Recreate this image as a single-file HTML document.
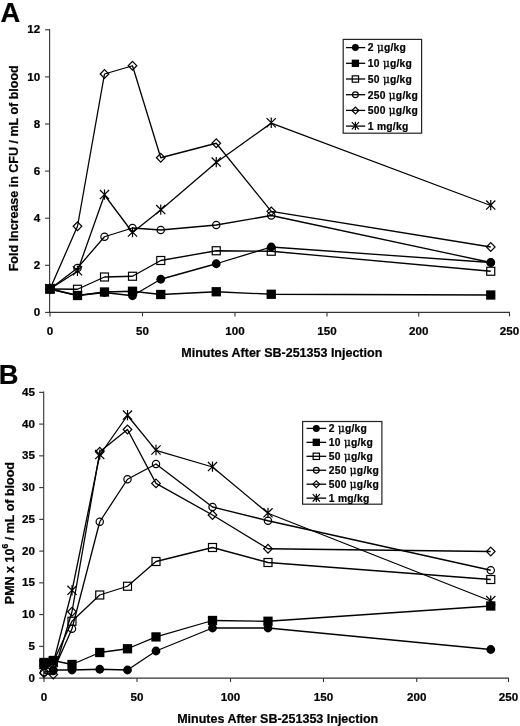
<!DOCTYPE html>
<html><head><meta charset="utf-8"><title>Figure</title>
<style>
html,body{margin:0;padding:0;background:#fff}
svg{display:block}
text{font-family:"Liberation Sans", Arial, sans-serif;font-weight:bold;fill:#000;stroke:#000;stroke-width:0.22px}
.t{font-size:11.6px}
.ax{font-size:12.5px}
.lg{font-size:10.3px;letter-spacing:0.25px}
.mu{stroke-width:0.35px;font-family:"DejaVu Serif","Liberation Serif",serif;font-weight:normal;font-size:10.4px}
.pl{font-size:27.3px}
</style></head><body>
<svg width="520" height="726" viewBox="0 0 520 726">
<rect width="520" height="726" fill="#fff"/>
<path d="M49.6 29V312.9M49.1 312.4H510" stroke="#333" stroke-width="1.1" fill="none"/>
<line x1="45.1" x2="49.6" y1="312.40" y2="312.40" stroke="#333" stroke-width="1.1"/>
<text x="40.2" y="316.00" text-anchor="end" class="t">0</text>
<line x1="45.1" x2="49.6" y1="265.30" y2="265.30" stroke="#333" stroke-width="1.1"/>
<text x="40.2" y="268.90" text-anchor="end" class="t">2</text>
<line x1="45.1" x2="49.6" y1="218.20" y2="218.20" stroke="#333" stroke-width="1.1"/>
<text x="40.2" y="221.80" text-anchor="end" class="t">4</text>
<line x1="45.1" x2="49.6" y1="171.10" y2="171.10" stroke="#333" stroke-width="1.1"/>
<text x="40.2" y="174.70" text-anchor="end" class="t">6</text>
<line x1="45.1" x2="49.6" y1="124.00" y2="124.00" stroke="#333" stroke-width="1.1"/>
<text x="40.2" y="127.60" text-anchor="end" class="t">8</text>
<line x1="45.1" x2="49.6" y1="76.90" y2="76.90" stroke="#333" stroke-width="1.1"/>
<text x="40.2" y="80.50" text-anchor="end" class="t">10</text>
<line x1="45.1" x2="49.6" y1="29.80" y2="29.80" stroke="#333" stroke-width="1.1"/>
<text x="40.2" y="33.40" text-anchor="end" class="t">12</text>
<line x1="50" x2="50" y1="312.4" y2="316.4" stroke="#333" stroke-width="1.1"/>
<text x="50" y="334.7" text-anchor="middle" class="t">0</text>
<line x1="142.5" x2="142.5" y1="312.4" y2="316.4" stroke="#333" stroke-width="1.1"/>
<text x="142.5" y="334.7" text-anchor="middle" class="t">50</text>
<line x1="235" x2="235" y1="312.4" y2="316.4" stroke="#333" stroke-width="1.1"/>
<text x="235" y="334.7" text-anchor="middle" class="t">100</text>
<line x1="327" x2="327" y1="312.4" y2="316.4" stroke="#333" stroke-width="1.1"/>
<text x="327" y="334.7" text-anchor="middle" class="t">150</text>
<line x1="418.75" x2="418.75" y1="312.4" y2="316.4" stroke="#333" stroke-width="1.1"/>
<text x="418.75" y="334.7" text-anchor="middle" class="t">200</text>
<line x1="509.5" x2="509.5" y1="312.4" y2="316.4" stroke="#333" stroke-width="1.1"/>
<text x="509.5" y="334.7" text-anchor="middle" class="t">250</text>
<text x="281.8" y="356.5" text-anchor="middle" class="ax">Minutes After SB-251353 Injection</text>
<text transform="translate(18.2 168.3) rotate(-90)" text-anchor="middle" class="ax">Fold Increase in CFU / mL of blood</text>
<polyline points="50,289 77.5,271.25 104.5,195 132.5,232.5 160.75,210 216.25,162.5 271.25,123.1 490.75,205.5" fill="none" stroke="#000" stroke-width="1.3" stroke-linejoin="round"/>
<path d="M50 283.40V293.80M45.40 284.00L54.60 293.20M45.40 293.20L54.60 284.00" fill="none" stroke="#000" stroke-width="1.2"/>
<path d="M77.5 265.65V276.05M72.90 266.25L82.10 275.45M72.90 275.45L82.10 266.25" fill="none" stroke="#000" stroke-width="1.2"/>
<path d="M104.5 189.40V199.80M99.90 190.00L109.10 199.20M99.90 199.20L109.10 190.00" fill="none" stroke="#000" stroke-width="1.2"/>
<path d="M132.5 226.90V237.30M127.90 227.50L137.10 236.70M127.90 236.70L137.10 227.50" fill="none" stroke="#000" stroke-width="1.2"/>
<path d="M160.75 204.40V214.80M156.15 205.00L165.35 214.20M156.15 214.20L165.35 205.00" fill="none" stroke="#000" stroke-width="1.2"/>
<path d="M216.25 156.90V167.30M211.65 157.50L220.85 166.70M211.65 166.70L220.85 157.50" fill="none" stroke="#000" stroke-width="1.2"/>
<path d="M271.25 117.50V127.90M266.65 118.10L275.85 127.30M266.65 127.30L275.85 118.10" fill="none" stroke="#000" stroke-width="1.2"/>
<path d="M490.75 199.90V210.30M486.15 200.50L495.35 209.70M486.15 209.70L495.35 200.50" fill="none" stroke="#000" stroke-width="1.2"/>
<polyline points="50,289 77.5,226.25 104.5,74 132.5,65.75 160.75,157.75 216.25,143.25 271.25,211.3 490.75,247" fill="none" stroke="#000" stroke-width="1.3" stroke-linejoin="round"/>
<path d="M45.70 289L50 284.70L54.30 289L50 293.30Z" fill="none" stroke="#000" stroke-width="1.2"/>
<path d="M73.20 226.25L77.5 221.95L81.80 226.25L77.5 230.55Z" fill="none" stroke="#000" stroke-width="1.2"/>
<path d="M100.20 74L104.5 69.70L108.80 74L104.5 78.30Z" fill="none" stroke="#000" stroke-width="1.2"/>
<path d="M128.20 65.75L132.5 61.45L136.80 65.75L132.5 70.05Z" fill="none" stroke="#000" stroke-width="1.2"/>
<path d="M156.45 157.75L160.75 153.45L165.05 157.75L160.75 162.05Z" fill="none" stroke="#000" stroke-width="1.2"/>
<path d="M211.95 143.25L216.25 138.95L220.55 143.25L216.25 147.55Z" fill="none" stroke="#000" stroke-width="1.2"/>
<path d="M266.95 211.3L271.25 207.00L275.55 211.3L271.25 215.60Z" fill="none" stroke="#000" stroke-width="1.2"/>
<path d="M486.45 247L490.75 242.70L495.05 247L490.75 251.30Z" fill="none" stroke="#000" stroke-width="1.2"/>
<polyline points="50,289 77.5,268 104.5,236.75 132.5,228 160.75,230 216.25,225 271.25,215.5 490.75,262.5" fill="none" stroke="#000" stroke-width="1.3" stroke-linejoin="round"/>
<circle cx="50" cy="289" r="3.65" fill="none" stroke="#000" stroke-width="1.2"/>
<circle cx="77.5" cy="268" r="3.65" fill="none" stroke="#000" stroke-width="1.2"/>
<circle cx="104.5" cy="236.75" r="3.65" fill="none" stroke="#000" stroke-width="1.2"/>
<circle cx="132.5" cy="228" r="3.65" fill="none" stroke="#000" stroke-width="1.2"/>
<circle cx="160.75" cy="230" r="3.65" fill="none" stroke="#000" stroke-width="1.2"/>
<circle cx="216.25" cy="225" r="3.65" fill="none" stroke="#000" stroke-width="1.2"/>
<circle cx="271.25" cy="215.5" r="3.65" fill="none" stroke="#000" stroke-width="1.2"/>
<circle cx="490.75" cy="262.5" r="3.65" fill="none" stroke="#000" stroke-width="1.2"/>
<polyline points="50,289 77.5,289.25 104.5,277 132.5,276.25 160.75,260.5 216.25,250.75 271.25,251.25 490.75,271.25" fill="none" stroke="#000" stroke-width="1.3" stroke-linejoin="round"/>
<rect x="46.00" y="285.00" width="8.00" height="8.00" fill="none" stroke="#000" stroke-width="1.2"/>
<rect x="73.50" y="285.25" width="8.00" height="8.00" fill="none" stroke="#000" stroke-width="1.2"/>
<rect x="100.50" y="273.00" width="8.00" height="8.00" fill="none" stroke="#000" stroke-width="1.2"/>
<rect x="128.50" y="272.25" width="8.00" height="8.00" fill="none" stroke="#000" stroke-width="1.2"/>
<rect x="156.75" y="256.50" width="8.00" height="8.00" fill="none" stroke="#000" stroke-width="1.2"/>
<rect x="212.25" y="246.75" width="8.00" height="8.00" fill="none" stroke="#000" stroke-width="1.2"/>
<rect x="267.25" y="247.25" width="8.00" height="8.00" fill="none" stroke="#000" stroke-width="1.2"/>
<rect x="486.75" y="267.25" width="8.00" height="8.00" fill="none" stroke="#000" stroke-width="1.2"/>
<polyline points="50,289 77.5,295.5 104.5,292 132.5,291.25 160.75,294.5 216.25,291.75 271.25,294.25 490.75,295" fill="none" stroke="#000" stroke-width="1.3" stroke-linejoin="round"/>
<rect x="45.35" y="284.35" width="9.30" height="9.30" fill="#000"/>
<rect x="72.85" y="290.85" width="9.30" height="9.30" fill="#000"/>
<rect x="99.85" y="287.35" width="9.30" height="9.30" fill="#000"/>
<rect x="127.85" y="286.60" width="9.30" height="9.30" fill="#000"/>
<rect x="156.10" y="289.85" width="9.30" height="9.30" fill="#000"/>
<rect x="211.60" y="287.10" width="9.30" height="9.30" fill="#000"/>
<rect x="266.60" y="289.60" width="9.30" height="9.30" fill="#000"/>
<rect x="486.10" y="290.35" width="9.30" height="9.30" fill="#000"/>
<polyline points="50,289 77.5,295.5 104.5,292.5 132.5,295.75 160.75,279.25 216.25,263.75 271.25,247 490.75,262.5" fill="none" stroke="#000" stroke-width="1.3" stroke-linejoin="round"/>
<circle cx="50" cy="289" r="4.40" fill="#000"/>
<circle cx="77.5" cy="295.5" r="4.40" fill="#000"/>
<circle cx="104.5" cy="292.5" r="4.40" fill="#000"/>
<circle cx="132.5" cy="295.75" r="4.40" fill="#000"/>
<circle cx="160.75" cy="279.25" r="4.40" fill="#000"/>
<circle cx="216.25" cy="263.75" r="4.40" fill="#000"/>
<circle cx="271.25" cy="247" r="4.40" fill="#000"/>
<circle cx="490.75" cy="262.5" r="4.40" fill="#000"/>
<rect x="343.2" y="39.4" width="78.4" height="93.8" fill="#fff" stroke="#222" stroke-width="1.2"/>
<line x1="346" x2="365.2" y1="47.60" y2="47.60" stroke="#000" stroke-width="1.3"/>
<circle cx="355.4" cy="47.6" r="3.48" fill="#000"/>
<text x="367.8" y="51.40" class="lg">2 <tspan class="mu">μ</tspan>g/kg</text>
<line x1="346" x2="365.2" y1="63.30" y2="63.30" stroke="#000" stroke-width="1.3"/>
<rect x="351.73" y="59.63" width="7.35" height="7.35" fill="#000"/>
<text x="367.8" y="67.10" class="lg">10 <tspan class="mu">μ</tspan>g/kg</text>
<line x1="346" x2="365.2" y1="79.00" y2="79.00" stroke="#000" stroke-width="1.3"/>
<rect x="352.24" y="75.84" width="6.32" height="6.32" fill="none" stroke="#000" stroke-width="1.2"/>
<text x="367.8" y="82.80" class="lg">50 <tspan class="mu">μ</tspan>g/kg</text>
<line x1="346" x2="365.2" y1="94.70" y2="94.70" stroke="#000" stroke-width="1.3"/>
<circle cx="355.4" cy="94.69999999999999" r="2.88" fill="none" stroke="#000" stroke-width="1.2"/>
<text x="367.8" y="98.50" class="lg">250 <tspan class="mu">μ</tspan>g/kg</text>
<line x1="346" x2="365.2" y1="110.40" y2="110.40" stroke="#000" stroke-width="1.3"/>
<path d="M352.00 110.4L355.4 107.00L358.80 110.4L355.4 113.80Z" fill="none" stroke="#000" stroke-width="1.2"/>
<text x="367.8" y="114.20" class="lg">500 <tspan class="mu">μ</tspan>g/kg</text>
<line x1="346" x2="365.2" y1="126.10" y2="126.10" stroke="#000" stroke-width="1.3"/>
<path d="M355.4 121.68V129.89M351.77 122.15L359.03 129.42M351.77 129.42L359.03 122.15" fill="none" stroke="#000" stroke-width="1.2"/>
<text x="367.8" y="129.90" class="lg">1 mg/kg</text>
<text x="0.5" y="21.7" class="pl">A</text>
<path d="M43.7 391.5V678.6M43.2 678.1H509" stroke="#333" stroke-width="1.1" fill="none"/>
<line x1="39.2" x2="43.7" y1="678.10" y2="678.10" stroke="#333" stroke-width="1.1"/>
<text x="35" y="681.70" text-anchor="end" class="t">0</text>
<line x1="39.2" x2="43.7" y1="646.35" y2="646.35" stroke="#333" stroke-width="1.1"/>
<text x="35" y="649.95" text-anchor="end" class="t">5</text>
<line x1="39.2" x2="43.7" y1="614.60" y2="614.60" stroke="#333" stroke-width="1.1"/>
<text x="35" y="618.20" text-anchor="end" class="t">10</text>
<line x1="39.2" x2="43.7" y1="582.85" y2="582.85" stroke="#333" stroke-width="1.1"/>
<text x="35" y="586.45" text-anchor="end" class="t">15</text>
<line x1="39.2" x2="43.7" y1="551.10" y2="551.10" stroke="#333" stroke-width="1.1"/>
<text x="35" y="554.70" text-anchor="end" class="t">20</text>
<line x1="39.2" x2="43.7" y1="519.35" y2="519.35" stroke="#333" stroke-width="1.1"/>
<text x="35" y="522.95" text-anchor="end" class="t">25</text>
<line x1="39.2" x2="43.7" y1="487.60" y2="487.60" stroke="#333" stroke-width="1.1"/>
<text x="35" y="491.20" text-anchor="end" class="t">30</text>
<line x1="39.2" x2="43.7" y1="455.85" y2="455.85" stroke="#333" stroke-width="1.1"/>
<text x="35" y="459.45" text-anchor="end" class="t">35</text>
<line x1="39.2" x2="43.7" y1="424.10" y2="424.10" stroke="#333" stroke-width="1.1"/>
<text x="35" y="427.70" text-anchor="end" class="t">40</text>
<line x1="39.2" x2="43.7" y1="392.35" y2="392.35" stroke="#333" stroke-width="1.1"/>
<text x="35" y="395.95" text-anchor="end" class="t">45</text>
<line x1="44" x2="44" y1="678.1" y2="682.1" stroke="#333" stroke-width="1.1"/>
<text x="44" y="701" text-anchor="middle" class="t">0</text>
<line x1="137" x2="137" y1="678.1" y2="682.1" stroke="#333" stroke-width="1.1"/>
<text x="137" y="701" text-anchor="middle" class="t">50</text>
<line x1="230.5" x2="230.5" y1="678.1" y2="682.1" stroke="#333" stroke-width="1.1"/>
<text x="230.5" y="701" text-anchor="middle" class="t">100</text>
<line x1="323.5" x2="323.5" y1="678.1" y2="682.1" stroke="#333" stroke-width="1.1"/>
<text x="323.5" y="701" text-anchor="middle" class="t">150</text>
<line x1="416.75" x2="416.75" y1="678.1" y2="682.1" stroke="#333" stroke-width="1.1"/>
<text x="416.75" y="701" text-anchor="middle" class="t">200</text>
<line x1="508.5" x2="508.5" y1="678.1" y2="682.1" stroke="#333" stroke-width="1.1"/>
<text x="508.5" y="701" text-anchor="middle" class="t">250</text>
<text x="277.7" y="722.5" text-anchor="middle" class="ax">Minutes After SB-251353 Injection</text>
<text transform="translate(13.5 533.1) rotate(-90)" text-anchor="middle" class="ax">PMN x 10<tspan dy="-5.4" style="font-size:8.6px">6</tspan><tspan dy="5.4"> / mL of blood</tspan></text>
<polyline points="44,665 53.25,663 72,590.75 99.75,455 127.5,415.5 156,450.4 212.5,467 268,513.25 490.75,601" fill="none" stroke="#000" stroke-width="1.3" stroke-linejoin="round"/>
<path d="M44 659.40V669.80M39.40 660.00L48.60 669.20M39.40 669.20L48.60 660.00" fill="none" stroke="#000" stroke-width="1.2"/>
<path d="M53.25 657.40V667.80M48.65 658.00L57.85 667.20M48.65 667.20L57.85 658.00" fill="none" stroke="#000" stroke-width="1.2"/>
<path d="M72 585.15V595.55M67.40 585.75L76.60 594.95M67.40 594.95L76.60 585.75" fill="none" stroke="#000" stroke-width="1.2"/>
<path d="M99.75 449.40V459.80M95.15 450.00L104.35 459.20M95.15 459.20L104.35 450.00" fill="none" stroke="#000" stroke-width="1.2"/>
<path d="M127.5 409.90V420.30M122.90 410.50L132.10 419.70M122.90 419.70L132.10 410.50" fill="none" stroke="#000" stroke-width="1.2"/>
<path d="M156 444.80V455.20M151.40 445.40L160.60 454.60M151.40 454.60L160.60 445.40" fill="none" stroke="#000" stroke-width="1.2"/>
<path d="M212.5 461.40V471.80M207.90 462.00L217.10 471.20M207.90 471.20L217.10 462.00" fill="none" stroke="#000" stroke-width="1.2"/>
<path d="M268 507.65V518.05M263.40 508.25L272.60 517.45M263.40 517.45L272.60 508.25" fill="none" stroke="#000" stroke-width="1.2"/>
<path d="M490.75 595.40V605.80M486.15 596.00L495.35 605.20M486.15 605.20L495.35 596.00" fill="none" stroke="#000" stroke-width="1.2"/>
<polyline points="44,673 53.25,674.5 72,611.75 99.75,451.75 127.5,429.5 156,483.4 212.5,515 268,548.75 490.75,551.5" fill="none" stroke="#000" stroke-width="1.3" stroke-linejoin="round"/>
<path d="M39.70 673L44 668.70L48.30 673L44 677.30Z" fill="none" stroke="#000" stroke-width="1.2"/>
<path d="M48.95 674.5L53.25 670.20L57.55 674.5L53.25 678.80Z" fill="none" stroke="#000" stroke-width="1.2"/>
<path d="M67.70 611.75L72 607.45L76.30 611.75L72 616.05Z" fill="none" stroke="#000" stroke-width="1.2"/>
<path d="M95.45 451.75L99.75 447.45L104.05 451.75L99.75 456.05Z" fill="none" stroke="#000" stroke-width="1.2"/>
<path d="M123.20 429.5L127.5 425.20L131.80 429.5L127.5 433.80Z" fill="none" stroke="#000" stroke-width="1.2"/>
<path d="M151.70 483.4L156 479.10L160.30 483.4L156 487.70Z" fill="none" stroke="#000" stroke-width="1.2"/>
<path d="M208.20 515L212.5 510.70L216.80 515L212.5 519.30Z" fill="none" stroke="#000" stroke-width="1.2"/>
<path d="M263.70 548.75L268 544.45L272.30 548.75L268 553.05Z" fill="none" stroke="#000" stroke-width="1.2"/>
<path d="M486.45 551.5L490.75 547.20L495.05 551.5L490.75 555.80Z" fill="none" stroke="#000" stroke-width="1.2"/>
<polyline points="44,672 53.25,671 72,628.75 99.75,521.75 127.5,479.25 156,464 212.5,507 268,520.75 490.75,570.25" fill="none" stroke="#000" stroke-width="1.3" stroke-linejoin="round"/>
<circle cx="44" cy="672" r="3.65" fill="none" stroke="#000" stroke-width="1.2"/>
<circle cx="53.25" cy="671" r="3.65" fill="none" stroke="#000" stroke-width="1.2"/>
<circle cx="72" cy="628.75" r="3.65" fill="none" stroke="#000" stroke-width="1.2"/>
<circle cx="99.75" cy="521.75" r="3.65" fill="none" stroke="#000" stroke-width="1.2"/>
<circle cx="127.5" cy="479.25" r="3.65" fill="none" stroke="#000" stroke-width="1.2"/>
<circle cx="156" cy="464" r="3.65" fill="none" stroke="#000" stroke-width="1.2"/>
<circle cx="212.5" cy="507" r="3.65" fill="none" stroke="#000" stroke-width="1.2"/>
<circle cx="268" cy="520.75" r="3.65" fill="none" stroke="#000" stroke-width="1.2"/>
<circle cx="490.75" cy="570.25" r="3.65" fill="none" stroke="#000" stroke-width="1.2"/>
<polyline points="44,664 53.25,662 72,621.25 99.75,595 127.5,586.25 156,561.5 212.5,547.5 268,562.5 490.75,579.5" fill="none" stroke="#000" stroke-width="1.3" stroke-linejoin="round"/>
<rect x="40.00" y="660.00" width="8.00" height="8.00" fill="none" stroke="#000" stroke-width="1.2"/>
<rect x="49.25" y="658.00" width="8.00" height="8.00" fill="none" stroke="#000" stroke-width="1.2"/>
<rect x="68.00" y="617.25" width="8.00" height="8.00" fill="none" stroke="#000" stroke-width="1.2"/>
<rect x="95.75" y="591.00" width="8.00" height="8.00" fill="none" stroke="#000" stroke-width="1.2"/>
<rect x="123.50" y="582.25" width="8.00" height="8.00" fill="none" stroke="#000" stroke-width="1.2"/>
<rect x="152.00" y="557.50" width="8.00" height="8.00" fill="none" stroke="#000" stroke-width="1.2"/>
<rect x="208.50" y="543.50" width="8.00" height="8.00" fill="none" stroke="#000" stroke-width="1.2"/>
<rect x="264.00" y="558.50" width="8.00" height="8.00" fill="none" stroke="#000" stroke-width="1.2"/>
<rect x="486.75" y="575.50" width="8.00" height="8.00" fill="none" stroke="#000" stroke-width="1.2"/>
<polyline points="44,662.5 53.25,660.5 72,664.5 99.75,652.5 127.5,648.75 156,636.9 212.5,620.5 268,621.25 490.75,606" fill="none" stroke="#000" stroke-width="1.3" stroke-linejoin="round"/>
<rect x="39.35" y="657.85" width="9.30" height="9.30" fill="#000"/>
<rect x="48.60" y="655.85" width="9.30" height="9.30" fill="#000"/>
<rect x="67.35" y="659.85" width="9.30" height="9.30" fill="#000"/>
<rect x="95.10" y="647.85" width="9.30" height="9.30" fill="#000"/>
<rect x="122.85" y="644.10" width="9.30" height="9.30" fill="#000"/>
<rect x="151.35" y="632.25" width="9.30" height="9.30" fill="#000"/>
<rect x="207.85" y="615.85" width="9.30" height="9.30" fill="#000"/>
<rect x="263.35" y="616.60" width="9.30" height="9.30" fill="#000"/>
<rect x="486.10" y="601.35" width="9.30" height="9.30" fill="#000"/>
<polyline points="44,666 53.25,670 72,670 99.75,669.25 127.5,670 156,651 212.5,628 268,628 490.75,649.5" fill="none" stroke="#000" stroke-width="1.3" stroke-linejoin="round"/>
<circle cx="44" cy="666" r="4.40" fill="#000"/>
<circle cx="53.25" cy="670" r="4.40" fill="#000"/>
<circle cx="72" cy="670" r="4.40" fill="#000"/>
<circle cx="99.75" cy="669.25" r="4.40" fill="#000"/>
<circle cx="127.5" cy="670" r="4.40" fill="#000"/>
<circle cx="156" cy="651" r="4.40" fill="#000"/>
<circle cx="212.5" cy="628" r="4.40" fill="#000"/>
<circle cx="268" cy="628" r="4.40" fill="#000"/>
<circle cx="490.75" cy="649.5" r="4.40" fill="#000"/>
<rect x="302.6" y="421.5" width="79.3" height="82.7" fill="#fff" stroke="#222" stroke-width="1.2"/>
<line x1="306.5" x2="326.2" y1="428.40" y2="428.40" stroke="#000" stroke-width="1.3"/>
<circle cx="316.3" cy="428.4" r="3.48" fill="#000"/>
<text x="328.8" y="432.20" class="lg">2 <tspan class="mu">μ</tspan>g/kg</text>
<line x1="306.5" x2="326.2" y1="442.35" y2="442.35" stroke="#000" stroke-width="1.3"/>
<rect x="312.63" y="438.68" width="7.35" height="7.35" fill="#000"/>
<text x="328.8" y="446.15" class="lg">10 <tspan class="mu">μ</tspan>g/kg</text>
<line x1="306.5" x2="326.2" y1="456.30" y2="456.30" stroke="#000" stroke-width="1.3"/>
<rect x="313.14" y="453.14" width="6.32" height="6.32" fill="none" stroke="#000" stroke-width="1.2"/>
<text x="328.8" y="460.10" class="lg">50 <tspan class="mu">μ</tspan>g/kg</text>
<line x1="306.5" x2="326.2" y1="470.25" y2="470.25" stroke="#000" stroke-width="1.3"/>
<circle cx="316.3" cy="470.25" r="2.88" fill="none" stroke="#000" stroke-width="1.2"/>
<text x="328.8" y="474.05" class="lg">250 <tspan class="mu">μ</tspan>g/kg</text>
<line x1="306.5" x2="326.2" y1="484.20" y2="484.20" stroke="#000" stroke-width="1.3"/>
<path d="M312.90 484.2L316.3 480.80L319.70 484.2L316.3 487.60Z" fill="none" stroke="#000" stroke-width="1.2"/>
<text x="328.8" y="488.00" class="lg">500 <tspan class="mu">μ</tspan>g/kg</text>
<line x1="306.5" x2="326.2" y1="498.15" y2="498.15" stroke="#000" stroke-width="1.3"/>
<path d="M316.3 493.73V501.94M312.67 494.20L319.93 501.47M312.67 501.47L319.93 494.20" fill="none" stroke="#000" stroke-width="1.2"/>
<text x="328.8" y="501.95" class="lg">1 mg/kg</text>
<text x="-1.2" y="384" class="pl">B</text>
</svg>
</body></html>
